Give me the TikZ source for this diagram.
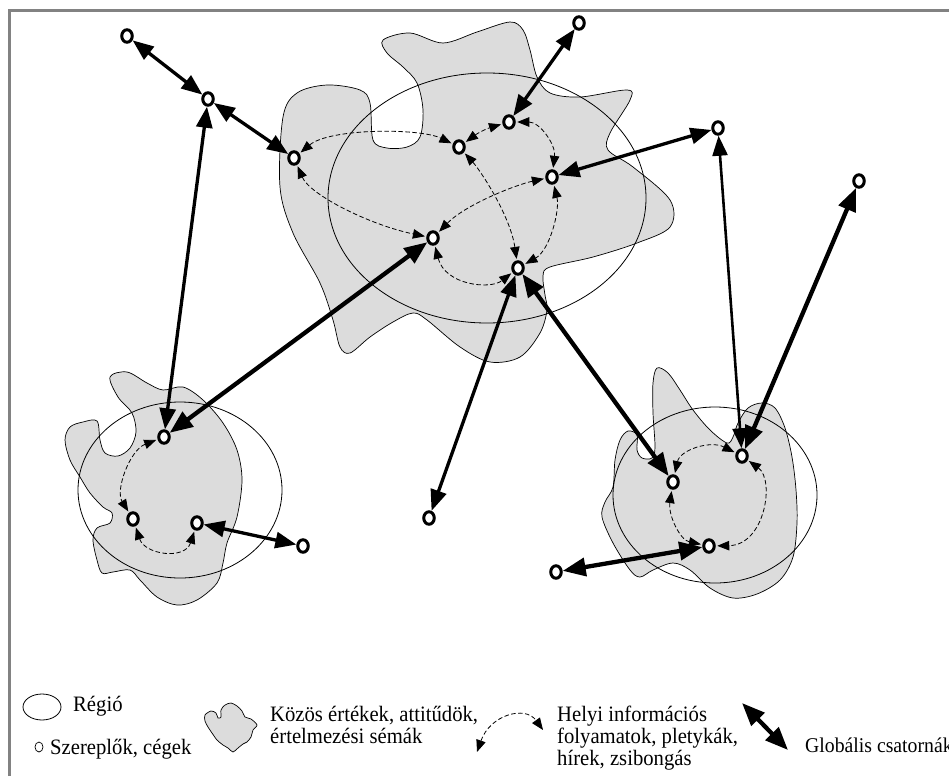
\documentclass[tikz,border=0pt]{standalone}
\usepackage{fontspec}
\setmainfont[FakeStretch=0.94]{Liberation Serif}
\usetikzlibrary{arrows.meta,shapes.geometric}
\definecolor{blobgray}{RGB}{220,220,220}
\definecolor{framegray}{RGB}{130,130,130}
\begin{document}
\begin{tikzpicture}[x=1pt,y=-1pt,
  actor/.style={ellipse, draw=black, line width=3pt, fill=white, inner sep=0pt, minimum width=10.5pt, minimum height=12.5pt},
  blob/.style={fill=blobgray, draw=black, line width=0.7pt},
  region/.style={draw=black, line width=0.8pt},
  glob/.style={line width=3.3pt, arrows={Triangle[length=21pt,width=16pt]-Triangle[length=21pt,width=16pt]}},
  globthick/.style={line width=4.3pt, arrows={Triangle[length=23pt,width=18pt]-Triangle[length=23pt,width=18pt]}},
  globthin/.style={line width=2.6pt, arrows={Triangle[length=20pt,width=15pt]-Triangle[length=20pt,width=15pt]}},
  loc/.style={line width=0.8pt, dash pattern=on 4.5pt off 2.5pt, arrows={Triangle[length=12pt,width=9.5pt]-Triangle[length=12pt,width=9.5pt]}, shorten <=1.5pt, shorten >=1.5pt},
  lbl/.style={inner sep=0pt, anchor=base west, font=\fontsize{22}{22}\selectfont}
]
\useasboundingbox (0,0) rectangle (949,776);
% frame
\draw[framegray, line width=3pt] (9,776) -- (9,11) -- (949,11);

% ---------- blobs ----------
\filldraw[blob] plot[smooth cycle, tension=0.55] coordinates {
 (383,40) (410,33) (443,43) (477,32) (510,22) (523,30) (530,50) (537,77) (550,93) (580,97)
 (627,90) (630,100) (610,133) (608,150) (633,167) (670,200) (670,227) (637,243) (593,257)
 (550,267) (543,276) (545,295) (547,310) (540,333) (520,357) (490,362) (460,347) (427,320)
 (413,313) (393,322) (370,337) (350,353) (340,347) (333,320) (320,283) (293,233) (280,187)
 (283,117) (297,93) (327,85) (360,90) (370,103) (373,140) (387,148) (407,147) (420,137)
 (423,110) (417,83) (403,67) (387,53)};
\filldraw[blob] plot[smooth cycle, tension=0.55] coordinates {
 (110,377) (127,372) (147,383) (163,390) (183,387) (203,400) (223,423) (237,450) (242,480)
 (237,517) (227,543) (223,563) (217,583) (197,600) (177,605) (157,597) (140,580) (130,570)
 (113,572) (102,573) (97,560) (93,540) (97,528) (110,523) (112,513) (103,507) (90,493)
 (80,477) (70,460) (65,440) (70,427) (83,422) (97,421) (100,440) (105,453) (118,456)
 (130,448) (136,432) (132,413) (118,397)};
\filldraw[blob] plot[smooth cycle, tension=0.55] coordinates {
 (657,368) (668,373) (680,390) (693,410) (710,430) (727,443) (733,437) (738,423) (748,408)
 (762,403) (775,408) (785,428) (792,457) (796,490) (797,523) (793,557) (780,580) (757,594)
 (733,598) (710,588) (690,570) (673,563) (653,570) (640,577) (630,570) (613,543) (602,517)
 (605,502) (613,487) (615,460) (620,440) (628,431) (637,435) (637,450) (642,458) (652,458)
 (655,447) (653,413) (653,383)};

% ---------- regions ----------
\draw[region] (487,198) ellipse [x radius=159, y radius=125];
\draw[region] (180,490) ellipse [x radius=102, y radius=88];
\draw[region] (715,495) ellipse [x radius=102, y radius=88];

% ---------- actors ----------
\node[actor] (A1) at (294,158) {};
\node[actor] (A2) at (459,147) {};
\node[actor] (A3) at (509,122) {};
\node[actor] (A4) at (552,177) {};
\node[actor] (A5) at (433,238) {};
\node[actor] (A6) at (518,268) {};
\node[actor] (T1) at (127,36) {};
\node[actor] (T2) at (208,99) {};
\node[actor] (T3) at (579,23) {};
\node[actor] (R1) at (718,128) {};
\node[actor] (R2) at (859,181) {};
\node[actor] (B1) at (429,518) {};
\node[actor] (L1) at (164,437) {};
\node[actor] (L2) at (133,519) {};
\node[actor] (L3) at (197,523) {};
\node[actor] (L4) at (303,546) {};
\node[actor] (Q1) at (673,482) {};
\node[actor] (Q2) at (742,456) {};
\node[actor] (Q3) at (709,546) {};
\node[actor] (Q4) at (556,572) {};

% ---------- global channels ----------
\draw[glob] (T1) -- (T2);
\draw[glob] (T2) -- (A1);
\draw[glob] (L1) -- (T2);
\draw[globthick] (L1) -- (A5);
\draw[glob] (L3) -- (L4);
\draw[glob] (A3) -- (T3);
\draw[glob] (A4) -- (R1);
\draw[glob] (A6) -- (B1);
\draw[globthick] (A6) -- (Q1);
\draw[globthin] (Q2) -- (R1);
\draw[globthick] (Q2) -- (R2);
\draw[globthick] (Q3) -- (Q4);

% ---------- local flows ----------
\draw[loc] (A1) .. controls (330,128) and (420,128) .. (A2);
\draw[loc] (A2) to[bend left=10] (A3);
\draw[loc] (A3) .. controls (540,122) and (556,145) .. (A4);
\draw[loc] (A2) .. controls (480,170) and (510,215) .. (A6);
\draw[loc] (A4) .. controls (515,185) and (465,205) .. (A5);
\draw[loc] (A4) .. controls (560,210) and (550,250) .. (A6);
\draw[loc] (A1) .. controls (310,195) and (370,225) .. (A5);
\draw[loc] (A5) .. controls (445,285) and (490,290) .. (A6);
\draw[loc] (L1) .. controls (130,450) and (115,490) .. (L2);
\draw[loc] (L2) .. controls (145,555) and (185,560) .. (L3);
\draw[loc] (Q1) .. controls (680,450) and (710,440) .. (Q2);
\draw[loc] (Q2) .. controls (775,480) and (765,545) .. (Q3);
\draw[loc] (Q1) .. controls (668,515) and (680,540) .. (Q3);

% ---------- legend ----------
\draw[region] (42,707) ellipse [x radius=19, y radius=13];
\node[lbl] (lregio) at (73,711) {Régió};
\node[ellipse, draw=black, line width=0.7pt, inner sep=0pt, minimum width=8pt, minimum height=10pt] (lactor) at (39,747) {};
\node[lbl] (lactortxt) at (50,754) {Szereplők, cégek};
\filldraw[blob] plot[smooth cycle, tension=0.5] coordinates {
 (205,715) (211,711) (216,713) (218,718) (221,717) (221,710) (225,705) (231,703) (237,706)
 (242,711) (245,717) (251,719) (257,725) (253,730) (251,737) (247,742) (243,744) (238,748)
 (233,752) (228,748) (223,745) (217,740) (212,733) (208,727) (205,721)};
\node[lbl] (lblob1) at (270,721) {Közös értékek, attitűdök,};
\node[lbl] (lblob2) at (270,743) {értelmezési sémák};
\coordinate (ld1) at (477,752);
\coordinate (ld2) at (543,730);
\draw[loc, shorten <=0pt, shorten >=0pt] (ld1) .. controls (490,715) and (525,705) .. (ld2);
\node[lbl] (lloc1) at (557,721) {Helyi információs};
\node[lbl] (lloc2) at (557,743) {folyamatok, pletykák,};
\node[lbl] (lloc3) at (557,765) {hírek, zsibongás};
\coordinate (lg1) at (742,703);
\coordinate (lg2) at (788,750);
\draw[globthick] (lg1) -- (lg2);
\node[lbl, font=\fontsize{21}{22}\selectfont] (lglob) at (805,752) {Globális csatornák};
\end{tikzpicture}
\end{document}
